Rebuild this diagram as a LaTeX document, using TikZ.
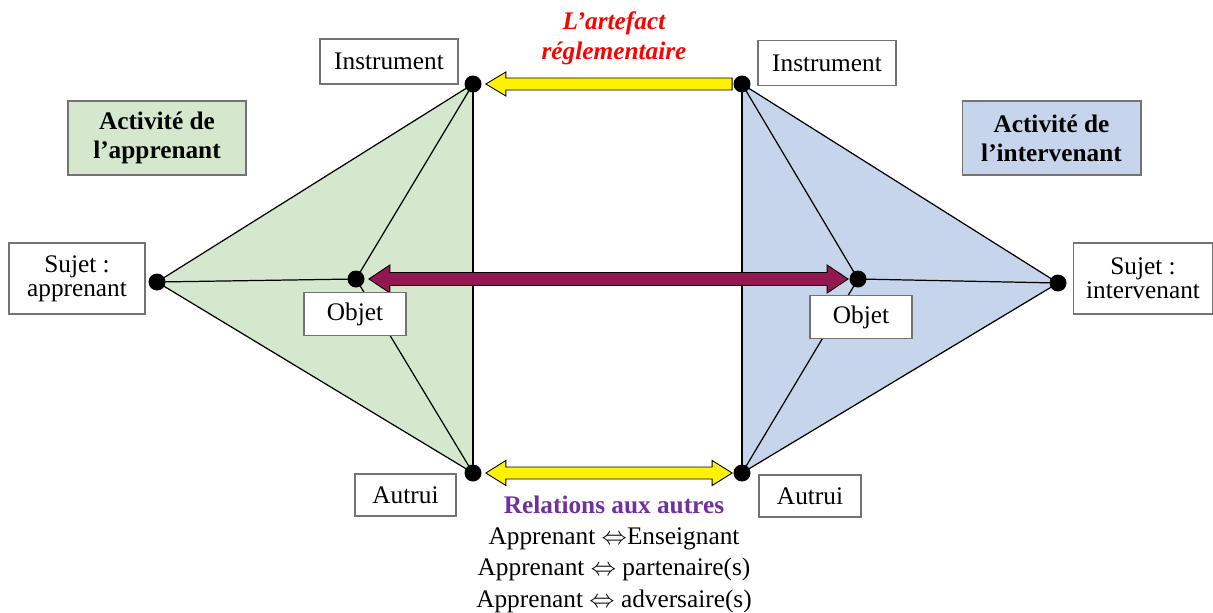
\documentclass[tikz,border=0pt]{standalone}
\usepackage{fontspec}
\setmainfont{Liberation Serif}
\usetikzlibrary{calc}

\definecolor{vertA}{RGB}{213,232,206}
\definecolor{bleuI}{RGB}{199,213,236}
\definecolor{bordeaux}{RGB}{148,23,81}
\definecolor{violet}{RGB}{112,48,160}

\tikzset{
  box/.style={draw=black!55, fill=white, line width=0.6pt, align=center, inner sep=0pt},
  dot/.style={circle, fill=black, inner sep=0pt, minimum size=0.34cm},
  edge/.style={line width=0.7pt},
  fatarrow/.style={draw=black, line width=0.5pt, line join=miter}
}

\begin{document}
\begin{tikzpicture}[x=0.02cm, y=-0.02cm, font=\fontsize{14.4}{17.8}\selectfont]
\useasboundingbox (0,0) rectangle (1213,612);

% corners of the two triangles
\coordinate (sA) at (157,282);
\coordinate (iA) at (473,84);
\coordinate (oA) at (356,279);
\coordinate (aA) at (473,473);
\coordinate (sI) at (1058,283);
\coordinate (iI) at (742,84);
\coordinate (oI) at (858,279);
\coordinate (aI) at (742,473);

\fill[vertA] (sA) -- (iA) -- (aA) -- cycle;
\fill[bleuI] (sI) -- (iI) -- (aI) -- cycle;
\foreach \a/\b in {sA/iA, sA/aA, iA/aA, sA/oA, oA/iA, oA/aA,
                   sI/iI, sI/aI, iI/aI, sI/oI, oI/iI, oI/aI}
  \draw[edge] (\a) -- (\b);

\foreach \p in {sA,iA,oA,aA,sI,iI,oI,aI}
  \node[dot] (d\p) at (\p) {};

% artefact arrow
\draw[fatarrow, fill=yellow] ($(diA.east)+(4,0)$) -- ++(20,-12) -- ++(0,6)
  -- ($(diI.west)+(-1,-6)$) -- ++(0,12) -- ($(diA.east)+(24,6)$) -- ++(0,6) -- cycle;

% objet <-> objet
\draw[fatarrow, fill=bordeaux] ($(doA.east)+(4,0)$) -- ++(21,-14) -- ++(0,7.5)
  -- ($(doI.west)+(-22,-6.5)$) -- ++(0,-7.5) -- ($(doI.west)+(-1,0)$)
  -- ++(-21,14) -- ++(0,-7.5) -- ($(doA.east)+(25,6.5)$) -- ++(0,7.5) -- cycle;

% autrui <-> autrui
\draw[fatarrow, fill=yellow] ($(daA.east)+(4,0)$) -- ++(20,-12.5) -- ++(0,6.5)
  -- ($(daI.west)+(-21,-6)$) -- ++(0,-6.5) -- ($(daI.west)+(-1,0)$)
  -- ++(-20,12.5) -- ++(0,-6.5) -- ($(daA.east)+(24,6)$) -- ++(0,6.5) -- cycle;

% labels
\node[box, minimum width=2.76cm, minimum height=0.9cm] (instA) at (389,61.5) {Instrument};
\node[box, minimum width=2.76cm, minimum height=0.9cm] (instI) at (827,63) {Instrument};
\node[box, fill=vertA, minimum width=3.56cm, minimum height=1.48cm,
      font=\fontsize{14.4}{16.5}\selectfont\bfseries] (actA) at (157,138) {Activité de\\l’apprenant};
\node[box, fill=bleuI, minimum width=3.58cm, minimum height=1.48cm,
      font=\fontsize{14.4}{16.5}\selectfont\bfseries] (actI) at (1051.5,138) {Activité de\\l’intervenant};
\node[box, minimum width=2.72cm, minimum height=1.42cm,
      font=\fontsize{14.4}{13.8}\selectfont] (sujA) at (77,278.5) {Sujet :\\apprenant};
\node[box, minimum width=2.8cm, minimum height=1.42cm,
      font=\fontsize{14.4}{13.8}\selectfont] (sujI) at (1143,278.5) {Sujet :\\intervenant};
\node[box, minimum width=2.04cm, minimum height=0.85cm] (objA) at (355,314) {Objet};
\node[box, minimum width=2.04cm, minimum height=0.85cm] (objI) at (861,317) {Objet};
\node[box, minimum width=2.02cm, minimum height=0.84cm] (autA) at (405.5,495) {Autrui};
\node[box, minimum width=2.04cm, minimum height=0.84cm] (autI) at (810,496) {Autrui};

\node[text=red, font=\fontsize{14.4}{17}\selectfont\bfseries\itshape, align=center]
  (artefact) at (614,38) {L’artefact\\réglementaire};
\node[align=center] (relations) at (614,554)
  {\textcolor{violet}{\bfseries Relations aux autres}\\
   Apprenant $\Leftrightarrow$Enseignant\\
   Apprenant $\Leftrightarrow$ partenaire(s)\\
   Apprenant $\Leftrightarrow$ adversaire(s)};
\end{tikzpicture}
\end{document}
